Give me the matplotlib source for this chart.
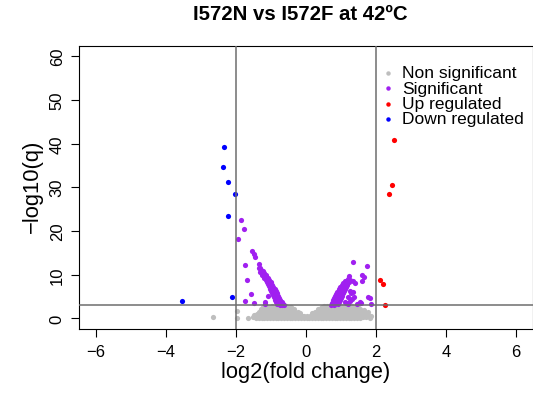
import numpy as np
import matplotlib
matplotlib.use("Agg")
import matplotlib.pyplot as plt
from matplotlib.lines import Line2D

plt.rcParams['font.family'] = ['Liberation Sans', 'DejaVu Sans']

# (log2 fold change, -log10 q)
non_sig = [
    # bottom row
    (-2.66, 0.3), (-1.98, 0.08), (-1.65, 0.05), (-1.52, 0.2), (-1.43, 0.1), (-1.35, 0.06),
    (-1.27, 0.15), (-1.19, 0.05), (-1.11, 0.12), (-1.03, 0.04), (-0.95, 0.1), (-0.87, 0.06),
    (-0.79, 0.14), (-0.71, 0.05), (-0.63, 0.11), (-0.55, 0.03), (-0.47, 0.09), (-0.39, 0.05),
    (-0.31, 0.12), (-0.23, 0.04), (-0.15, 0.08), (-0.07, 0.03), (0.01, 0.06), (0.09, 0.04),
    (0.17, 0.1), (0.25, 0.05), (0.33, 0.08), (0.41, 0.04), (0.49, 0.12), (0.57, 0.06),
    (0.65, 0.1), (0.73, 0.05), (0.81, 0.13), (0.89, 0.07), (0.97, 0.1), (1.05, 0.05),
    (1.13, 0.14), (1.21, 0.08), (1.29, 0.12), (1.37, 0.06), (1.45, 0.18), (1.53, 0.1),
    (1.62, 0.2), (1.72, 0.3), (1.81, 0.15),
    # second row
    (-1.98, 1.7), (-1.50, 0.7), (-1.41, 0.9), (-1.33, 0.75), (-1.25, 0.85), (-1.17, 0.7),
    (-1.09, 0.9), (-1.01, 0.8), (-0.93, 0.7), (-0.85, 0.9), (-0.77, 0.75), (-0.69, 0.85),
    (-0.61, 0.7), (-0.53, 0.9), (-0.45, 0.8), (-0.37, 0.75), (-0.29, 0.85), (-0.21, 0.7),
    (-0.13, 0.6), (-0.05, 0.55), (0.03, 0.5), (0.11, 0.6), (0.19, 0.7), (0.27, 0.8),
    (0.35, 0.75), (0.43, 0.85), (0.51, 0.7), (0.59, 0.9), (0.67, 0.8), (0.75, 0.75),
    (0.83, 0.9), (0.91, 0.7), (0.99, 0.85), (1.07, 0.8), (1.15, 0.75), (1.23, 0.9),
    (1.31, 0.7), (1.39, 0.85), (1.47, 0.8), (1.56, 0.7), (1.66, 0.9), (1.76, 0.75), (1.84, 0.5),
    # third row
    (-1.36, 1.4), (-1.28, 1.55), (-1.20, 1.45), (-1.12, 1.6), (-1.04, 1.5), (-0.96, 1.45),
    (-0.88, 1.6), (-0.80, 1.5), (-0.72, 1.4), (-0.64, 1.55), (-0.56, 1.5), (-0.48, 1.6),
    (-0.40, 1.45), (-0.32, 1.5), (-0.24, 1.35), (-0.17, 1.15), (0.17, 1.15), (0.24, 1.35),
    (0.32, 1.5), (0.40, 1.45), (0.48, 1.6), (0.56, 1.5), (0.64, 1.4), (0.72, 1.55),
    (0.80, 1.5), (0.88, 1.6), (0.96, 1.45), (1.04, 1.5), (1.12, 1.6), (1.20, 1.4),
    (1.28, 1.55), (1.36, 1.5), (1.44, 1.45), (1.52, 1.6), (1.61, 1.4), (1.70, 1.3), (1.78, 1.5),
    # fourth row
    (-1.30, 2.1), (-1.22, 2.25), (-1.14, 2.2), (-1.06, 2.3), (-0.98, 2.15), (-0.90, 2.25),
    (-0.82, 2.2), (-0.74, 2.3), (-0.66, 2.15), (-0.58, 2.25), (-0.50, 2.2), (-0.42, 2.3),
    (-0.34, 2.05), (0.34, 2.05), (0.42, 2.3), (0.50, 2.2), (0.58, 2.25), (0.66, 2.15),
    (0.74, 2.3), (0.82, 2.2), (0.90, 2.25), (0.98, 2.15), (1.06, 2.3), (1.14, 2.2),
    (1.22, 2.25), (1.30, 2.1), (1.38, 2.3), (1.46, 2.2), (1.55, 2.1), (1.64, 2.0),
    # top row
    (-1.22, 2.7), (-1.14, 2.8), (-1.06, 2.65), (-0.98, 2.75), (-0.90, 2.7), (-0.82, 2.8),
    (-0.74, 2.65), (-0.66, 2.75), (-0.58, 2.8), (-0.50, 2.7), (-0.44, 2.6), (0.44, 2.6),
    (0.52, 2.75), (0.60, 2.8), (0.68, 2.7), (0.76, 2.75), (0.84, 2.8), (0.92, 2.65),
    (1.00, 2.75), (1.08, 2.8), (1.16, 2.7), (1.24, 2.75), (1.32, 2.8), (1.40, 2.65), (1.48, 2.7),
]

significant = [
    # left, scattered
    (-1.95, 18.2), (-1.87, 22.4), (-1.77, 20.4), (-1.55, 15.5), (-1.50, 14.7), (-1.47, 14.0),
    (-1.74, 12.2), (-1.36, 12.4), (-1.36, 11.6), (-1.68, 8.7), (-1.57, 5.6), (-1.74, 4.0),
    (-1.50, 3.5), (-1.18, 3.35), (-1.17, 3.7), (-1.10, 5.2), (-1.31, 10.5), (-1.24, 10.9),
    (-1.27, 9.8),
    # left, dense band
    (-0.74, 3.1), (-0.77, 3.5), (-0.80, 4.0), (-0.83, 4.5), (-0.86, 5.0), (-0.89, 5.5),
    (-0.92, 6.0), (-0.95, 6.5), (-0.98, 7.0), (-1.01, 7.5), (-1.05, 8.0), (-1.09, 8.5),
    (-1.13, 9.0), (-1.17, 9.5), (-1.21, 10.0), (-1.25, 10.5), (-1.29, 11.0), (-1.33, 11.5),
    (-0.83, 3.3), (-0.86, 3.8), (-0.88, 4.3), (-0.91, 4.8), (-0.94, 5.3), (-0.97, 5.8),
    (-1.00, 6.3), (-1.03, 6.8), (-1.06, 7.3), (-1.09, 7.8), (-1.12, 8.3), (-1.16, 8.8),
    (-1.20, 9.3), (-1.24, 9.8),
    (-0.66, 3.2), (-0.70, 3.7), (-0.74, 4.2), (-0.78, 4.7), (-0.81, 5.2), (-0.84, 5.7),
    (-0.87, 6.2), (-0.90, 6.7), (-0.94, 7.2), (-0.97, 7.7), (-1.01, 8.3), (-1.05, 8.8),
    (-1.09, 9.3), (-1.14, 9.9), (-1.19, 10.4), (-0.62, 3.05), (-0.70, 3.0),
    # right, dense band
    (0.80, 3.1), (0.83, 3.6), (0.86, 4.1), (0.89, 4.6), (0.92, 5.1), (0.95, 5.6),
    (0.98, 6.1), (1.01, 6.6), (1.05, 7.1), (1.09, 7.6), (1.13, 8.1), (1.17, 8.6),
    (1.20, 9.1), (1.22, 9.6),
    (0.70, 3.1), (0.73, 3.6), (0.76, 4.1), (0.79, 4.6), (0.82, 5.1), (0.86, 5.6),
    (0.89, 6.1), (0.93, 6.6), (0.97, 7.1), (1.01, 7.6), (1.06, 8.1), (1.11, 8.6),
    (0.90, 3.2), (0.93, 3.7), (0.96, 4.2), (0.99, 4.7), (1.02, 5.2), (1.05, 5.7),
    (1.08, 6.2), (1.11, 6.7), (1.14, 7.2), (1.17, 7.7), (1.21, 8.2), (1.24, 8.7),
    # right, scattered
    (1.35, 12.8), (1.73, 12.0), (1.59, 9.9), (1.64, 9.4), (1.35, 8.6), (1.59, 8.6),
    (1.40, 8.1), (1.26, 6.3), (1.35, 6.0), (1.28, 5.8), (1.78, 4.8), (1.83, 4.6),
    (1.54, 3.7), (1.30, 4.4), (1.26, 4.0), (1.86, 3.35), (1.56, 3.5), (1.15, 3.4),
    (1.20, 4.8), (1.38, 4.9), (1.45, 3.3), (1.20, 3.3), (1.10, 3.8),
]

up_fc = [2.52, 2.45, 2.37, 2.11, 2.19, 2.26]
up_q = [40.8, 30.4, 28.5, 8.8, 7.8, 3.1]

down_fc = [-2.36, -2.38, -2.24, -2.03, -2.23, -2.12, -3.56]
down_q = [39.2, 34.6, 31.3, 28.5, 23.5, 4.9, 4.0]

fc_cut = 2
q_cut = 3

legend_labels = ["Non significant", "Significant", "Up regulated", "Down regulated"]
colours = ["#BEBEBE", "#A020F0", "#FF0000", "#0000FF"]

W, H = 533, 402
fig = plt.figure(figsize=(W / 100, H / 100), dpi=100)
ax = fig.add_axes([79.3 / W, 1 - 330 / H, (W - 79.3) / W, (330 - 46.7) / H])

ns = np.array(non_sig)
sg = np.array(significant)
ms = 14
ax.scatter(ns[:, 0], ns[:, 1], s=ms, c=colours[0], linewidths=0, zorder=2)
ax.scatter(sg[:, 0], sg[:, 1], s=ms, c=colours[1], linewidths=0, zorder=2)
ax.scatter(up_fc, up_q, s=ms, c=colours[2], linewidths=0, zorder=2)
ax.scatter(down_fc, down_q, s=ms, c=colours[3], linewidths=0, zorder=2)

ax.axvline(-fc_cut, color="#6E6E6E", lw=1.1, zorder=3)
ax.axvline(fc_cut, color="#6E6E6E", lw=1.1, zorder=3)
ax.axhline(q_cut, color="#6E6E6E", lw=1.1, zorder=3)

ax.set_xlim(-6.48, 6.48)
ax.set_ylim(-2.45, 62.4)
ax.set_xticks([-6, -4, -2, 0, 2, 4, 6])
ax.set_yticks([0, 10, 20, 30, 40, 50, 60])
ax.tick_params(length=5.5, width=0.8, labelsize=12, pad=5)
for lab in ax.get_yticklabels():
    lab.set_rotation(90)
    lab.set_va("center")
for sp in ax.spines.values():
    sp.set_linewidth(0.8)

fig.text(300 / W, 1 - 15 / H, "I572N vs I572F at 42ºC", ha="center", va="center",
         fontsize=14.7, fontweight="bold")
fig.text(305.8 / W, 1 - 373 / H, "log2(fold change)", ha="center", va="center", fontsize=15.8)
fig.text(32 / W, 1 - 186 / H, "\u2212log10(q)", ha="center", va="center", rotation=90, fontsize=15.8)

for i, (lab, col) in enumerate(zip(legend_labels, colours)):
    yy = 1 - (74 + i * 15.3) / H
    fig.add_artist(Line2D([388 / W], [yy], marker="o", color=col, markersize=3.2,
                          markeredgewidth=0, linestyle="none", transform=fig.transFigure))
    fig.text(401.7 / W, yy, lab, ha="left", va="center", fontsize=12.5)

fig.savefig("out.png", dpi=100)
